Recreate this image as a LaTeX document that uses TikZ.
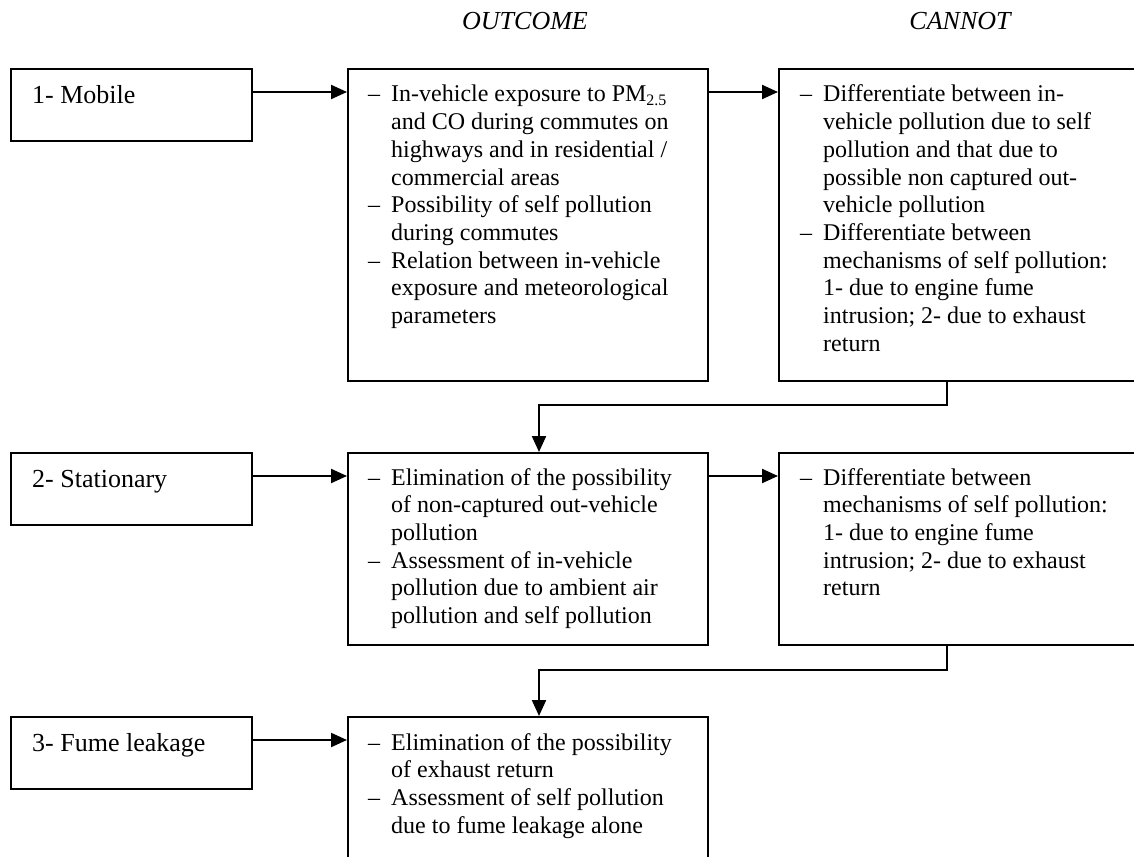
\documentclass[tikz,border=0pt]{standalone}
\usepackage{fontspec}
\setmainfont{Liberation Serif}
\usetikzlibrary{arrows.meta}
\newcommand\dsh{\makebox[23pt][l]{–}}
\newcommand\pmsub{PM\raisebox{-3.5pt}{\fontsize{16}{16}\selectfont 2.5}}
\begin{document}
\begin{tikzpicture}[x=1pt,y=-1pt,
  box/.style={draw,line width=1.8pt,anchor=north west,inner sep=0pt},
  txt/.style={anchor=base west,inner sep=0pt,font=\fontsize{24}{27.7}\selectfont},
  lbl/.style={anchor=base west,inner sep=0pt,font=\fontsize{26}{30}\selectfont},
  arr/.style={line width=2.2pt,-{Triangle[length=16pt,width=14pt]}},
  hdr/.style={anchor=base,inner sep=0pt,font=\fontsize{26}{30}\selectfont\itshape}]
\useasboundingbox (0,0) rectangle (1134,856);
\clip (0,0) rectangle (1134,856);

% headers
\node[hdr] (h1) at (525,30) {OUTCOME};
\node[hdr] (h2) at (960,30) {CANNOT};

% boxes
\node[box,minimum width=241pt,minimum height=72pt] (m1) at (10,68) {};
\node[box,minimum width=360pt,minimum height=312pt] (o1) at (347,68) {};
\node[box,minimum width=380pt,minimum height=312pt] (c1) at (778,68) {};
\node[box,minimum width=241pt,minimum height=72pt] (m2) at (10,452) {};
\node[box,minimum width=360pt,minimum height=192pt] (o2) at (347,452) {};
\node[box,minimum width=380pt,minimum height=192pt] (c2) at (778,452) {};
\node[box,minimum width=241pt,minimum height=72pt] (m3) at (10,716) {};
\node[box,minimum width=360pt,minimum height=170pt] (o3) at (347,716) {};

% texts
\node[lbl] (tm1) at (32,103) {1- Mobile};
\node[lbl] (tm2) at (32,487) {2- Stationary};
\node[lbl] (tm3) at (32,751) {3- Fume leakage};

\node[txt] (to1) at (368,102) {\begin{tabular}[t]{@{}l@{}l@{}}
\dsh & In-vehicle exposure to \pmsub\\
 & and CO during commutes on\\
 & highways and in residential /\\
 & commercial areas\\
\dsh & Possibility of self pollution\\
 & during commutes\\
\dsh & Relation between in-vehicle\\
 & exposure and meteorological\\
 & parameters
\end{tabular}};

\node[txt] (tc1) at (800,102) {\begin{tabular}[t]{@{}l@{}l@{}}
\dsh & Differentiate between in-\\
 & vehicle pollution due to self\\
 & pollution and that due to\\
 & possible non captured out-\\
 & vehicle pollution\\
\dsh & Differentiate between\\
 & mechanisms of self pollution:\\
 & 1- due to engine fume\\
 & intrusion; 2- due to exhaust\\
 & return
\end{tabular}};

\node[txt] (to2) at (368,485) {\begin{tabular}[t]{@{}l@{}l@{}}
\dsh & Elimination of the possibility\\
 & of non-captured out-vehicle\\
 & pollution\\
\dsh & Assessment of in-vehicle\\
 & pollution due to ambient air\\
 & pollution and self pollution
\end{tabular}};

\node[txt] (tc2) at (800,485) {\begin{tabular}[t]{@{}l@{}l@{}}
\dsh & Differentiate between\\
 & mechanisms of self pollution:\\
 & 1- due to engine fume\\
 & intrusion; 2- due to exhaust\\
 & return
\end{tabular}};

\node[txt] (to3) at (368,750) {\begin{tabular}[t]{@{}l@{}l@{}}
\dsh & Elimination of the possibility\\
 & of exhaust return\\
\dsh & Assessment of self pollution\\
 & due to fume leakage alone
\end{tabular}};

% connectors
\draw[arr] ([yshift=-24pt]m1.north east) -- ([yshift=-24pt]o1.north west);
\draw[arr] ([yshift=-24pt]o1.north east) -- ([yshift=-24pt]c1.north west);
\draw[arr] ([yshift=-24pt]m2.north east) -- ([yshift=-24pt]o2.north west);
\draw[arr] ([yshift=-24pt]o2.north east) -- ([yshift=-24pt]c2.north west);
\draw[arr] ([yshift=-24pt]m3.north east) -- ([yshift=-24pt]o3.north west);
\draw[arr] ([xshift=169pt]c1.south west) -- ++(0,23) -| ([xshift=192pt]o2.north west);
\draw[arr] ([xshift=169pt]c2.south west) -- ++(0,24) -| ([xshift=192pt]o3.north west);
\end{tikzpicture}
\end{document}
